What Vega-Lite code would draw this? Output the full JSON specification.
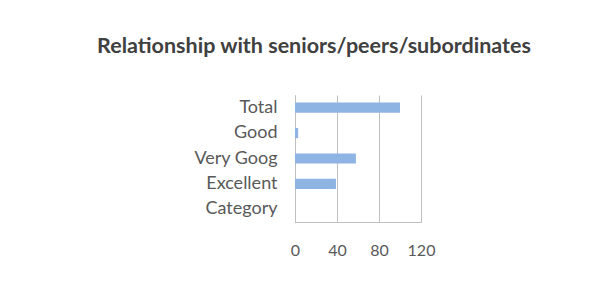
{
  "$schema": "https://vega.github.io/schema/vega-lite/v6.json",
  "autosize": {"type": "none"},
  "padding": {"left": 295, "top": 95, "right": 195, "bottom": 74},
  "width": 126,
  "height": 127,
  "background": "white",
  "title": {
    "text": "Relationship with seniors/peers/subordinates",
    "font": "Lato",
    "fontSize": 21.5,
    "fontWeight": "bold",
    "color": "#404040",
    "anchor": "middle",
    "frame": "group",
    "dx": -44,
    "offset": 38
  },
  "data": {
    "values": [
      {"category": "Total", "value": 100},
      {"category": "Good", "value": 3},
      {"category": "Very Goog", "value": 58},
      {"category": "Excellent", "value": 39},
      {"category": "Category", "value": 0}
    ]
  },
  "mark": {"type": "bar", "color": "#8EB4E3"},
  "encoding": {
    "y": {
      "field": "category",
      "type": "nominal",
      "sort": ["Total", "Good", "Very Goog", "Excellent", "Category"],
      "scale": {"paddingInner": 0.6, "paddingOuter": 0.3},
      "axis": {
        "title": null,
        "ticks": false,
        "domain": true,
        "domainColor": "#bfbfbf",
        "labelFont": "Lato",
        "labelFontSize": 18,
        "labelColor": "#595959",
        "labelPadding": 18
      }
    },
    "x": {
      "field": "value",
      "type": "quantitative",
      "scale": {"domain": [0, 120], "nice": false},
      "axis": {
        "title": null,
        "values": [0, 40, 80, 120],
        "ticks": false,
        "domain": true,
        "domainColor": "#bfbfbf",
        "grid": true,
        "gridColor": "#bfbfbf",
        "labelFont": "Lato",
        "labelFontSize": 16,
        "labelColor": "#595959",
        "labelPadding": 20,
        "labelFlush": false
      }
    }
  },
  "config": {"view": {"stroke": null}}
}
